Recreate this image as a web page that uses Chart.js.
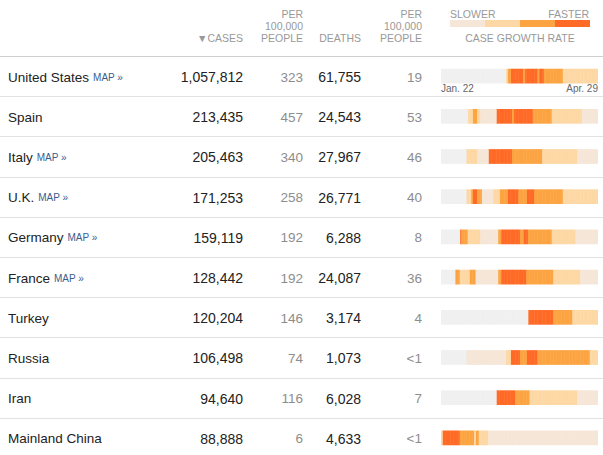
<!DOCTYPE html>
<html>
<head>
<meta charset="utf-8">
<script src="https://cdn.jsdelivr.net/npm/chart.js@4"></script>
<style>
  body { margin: 0; background: #fff; font-family: "Liberation Sans", Arial, sans-serif; }
  #wrap { position: relative; width: 603px; height: 455px; overflow: hidden; }
  .hd { position: absolute; color: #999; font-size: 10.5px; line-height: 12px; text-align: right; }
  .row { position: absolute; left: 0; width: 603px; border-top: 1px solid #e2e2e2; box-sizing: border-box; }
  .row.first { border-top-color: #cfcfcf; }
  .cell { position: absolute; top: 0; bottom: 0; display: flex; align-items: center; white-space: nowrap; }
  .name { left: 8px; font-size: 13.5px; color: #222; }
  .map { font-size: 10px; color: #3a5d8f; margin-left: 4px; }
  .num { justify-content: flex-end; font-size: 14px; color: #222; }
  .grey { color: #8d8d8d; font-size: 13.5px; }
  .sw { position: absolute; top: 20px; height: 7px; width: 35px; }
  .lg { position: absolute; font-size: 10.5px; color: #999; }
  .dt { position: absolute; top: 83px; font-size: 10px; color: #666; }
  #strips { position: absolute; left: 441px; top: 56px; }
</style>
</head>
<body>
<div id="wrap">
  <div class="hd" style="right:360px; top:32px;">&#9660;CASES</div>
  <div class="hd" style="right:300px; top:8px;">PER<br>100,000<br>PEOPLE</div>
  <div class="hd" style="right:242px; top:32px;">DEATHS</div>
  <div class="hd" style="right:181px; top:8px;">PER<br>100,000<br>PEOPLE</div>
  <div class="lg" style="left:450px; top:8px;">SLOWER</div>
  <div class="lg" style="right:14px; top:8px;">FASTER</div>
  <div id="legend"></div>
  <div class="lg" style="left:450px; width:140px; text-align:center; top:32px;">CASE GROWTH RATE</div>
  <div id="rows"></div>
  <div class="dt" style="left:441px;">Jan. 22</div>
  <div class="dt" style="right:5px;">Apr. 29</div>
  <canvas id="strips" width="157" height="402"></canvas>
</div>
<script>
var countries = ['United States', 'Spain', 'Italy', 'U.K.', 'Germany', 'France', 'Turkey', 'Russia', 'Iran', 'Mainland China'];
var hasMap = [true, false, true, true, true, true, false, false, false, false];
var cases = ['1,057,812', '213,435', '205,463', '171,253', '159,119', '128,442', '120,204', '106,498', '94,640', '88,888'];
var casesPer100k = ['323', '457', '340', '258', '192', '192', '146', '74', '116', '6'];
var deaths = ['61,755', '24,543', '27,967', '26,771', '6,288', '24,087', '3,174', '1,073', '6,028', '4,633'];
var deathsPer100k = ['19', '53', '46', '40', '8', '36', '4', '<1', '7', '<1'];

// growth level per day, Jan. 22 - Apr. 29, as [level, days] runs
// 0 = few cases, 1 = slower ... 4 = faster
var usGrowth = [[0, 41], [2, 1], [3, 2], [4, 8], [3, 1], [4, 8], [3, 1], [4, 3], [3, 12], [2, 22]];
var spainGrowth = [[0, 17], [2, 3], [3, 3], [2, 2], [1, 10], [4, 10], [3, 1], [4, 12], [3, 12], [2, 19], [1, 10]];
var italyGrowth = [[0, 16], [2, 7], [1, 7], [4, 15], [3, 19], [2, 22], [1, 13]];
var ukGrowth = [[0, 16], [2, 3], [3, 1], [4, 3], [3, 3], [1, 7], [2, 4], [3, 5], [4, 7], [3, 5], [4, 5], [3, 18], [2, 22]];
var germanyGrowth = [[0, 12], [4, 1], [3, 4], [2, 8], [1, 11], [3, 2], [4, 12], [3, 2], [4, 3], [3, 15], [2, 15], [1, 14]];
var franceGrowth = [[0, 9], [3, 3], [2, 6], [3, 4], [1, 14], [3, 2], [4, 16], [3, 17], [2, 17], [1, 11]];
var turkeyGrowth = [[0, 55], [4, 16], [3, 12], [2, 16]];
var russiaGrowth = [[0, 16], [1, 25], [2, 3], [4, 6], [3, 4], [4, 7], [3, 33], [2, 5]];
var iranGrowth = [[0, 35], [4, 12], [3, 9], [2, 30], [1, 13]];
var chinaGrowth = [[2, 1], [4, 11], [3, 9], [2, 1], [3, 2], [2, 6], [1, 69]];
var growth = [usGrowth, spainGrowth, italyGrowth, ukGrowth, germanyGrowth, franceGrowth, turkeyGrowth, russiaGrowth, iranGrowth, chinaGrowth];

var levelColors = ['#f0f0f0', '#f5e6d7', '#fdd8a4', '#fca442', '#ff6a26'];
var totalDays = 99;
var rowH = 40.2;

// legend swatches
var lg = document.getElementById('legend');
for (var k = 1; k < levelColors.length; k++) {
  var s = document.createElement('div');
  s.className = 'sw';
  s.style.left = (450 + (k - 1) * 35) + 'px';
  s.style.background = levelColors[k];
  lg.appendChild(s);
}

// table rows
var rowsEl = document.getElementById('rows');
countries.forEach(function (c, i) {
  var r = document.createElement('div');
  r.className = 'row' + (i == 0 ? ' first' : '');
  r.style.top = (56 + i * rowH) + 'px';
  r.style.height = (rowH + 1) + 'px';
  r.innerHTML =
    '<div class="cell name">' + c + (hasMap[i] ? '<span class="map">MAP &raquo;</span>' : '') + '</div>' +
    '<div class="cell num" style="right:360px">' + cases[i] + '</div>' +
    '<div class="cell num grey" style="right:300px">' + casesPer100k[i] + '</div>' +
    '<div class="cell num" style="right:242px">' + deaths[i] + '</div>' +
    '<div class="cell num grey" style="right:181px">' + deathsPer100k[i].replace('<', '&lt;') + '</div>';
  rowsEl.appendChild(r);
});

// one dataset per growth level, each day a floating bar
var datasets = levelColors.map(function (col, level) {
  var pts = [];
  growth.forEach(function (runs, i) {
    var d = 0;
    runs.forEach(function (run) {
      for (var j = 0; j < run[1]; j++) {
        if (run[0] == level) pts.push({ x: [d, d + 0.88], y: countries[i] });
        d++;
      }
    });
  });
  return {
    data: pts,
    backgroundColor: col,
    borderWidth: 0,
    borderSkipped: false,
    barThickness: 14,
    grouped: false,
  };
});

new Chart(document.getElementById('strips'), {
  type: 'bar',
  data: { labels: countries, datasets: datasets },
  options: {
    indexAxis: 'y',
    responsive: false,
    animation: false,
    layout: { padding: 0 },
    scales: {
      x: { type: 'linear', min: 0, max: totalDays, display: false },
      y: { type: 'category', display: false, offset: true },
    },
    plugins: {
      legend: { display: false },
      tooltip: { enabled: false },
    },
  },
});
</script>
</body>
</html>
